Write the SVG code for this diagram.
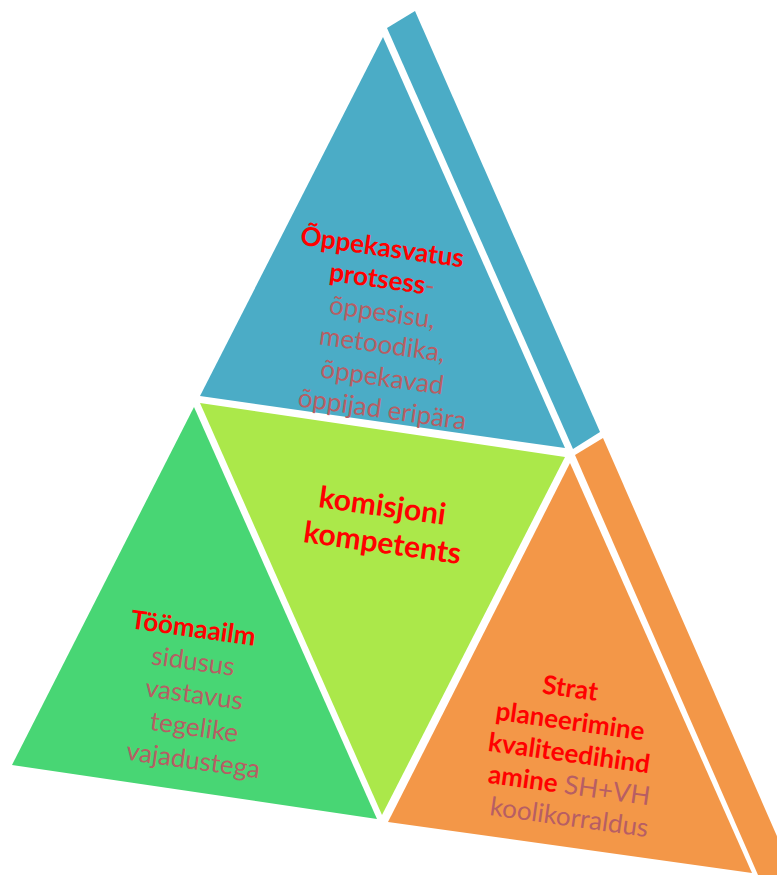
<svg xmlns="http://www.w3.org/2000/svg" width="777" height="875" viewBox="0 0 777 875">
<style>
.t{font-family:Lato,"Open Sans","Liberation Sans",sans-serif;text-anchor:middle}
.h{font-weight:bold;fill:#FF0000}
.s{fill:#B75E64}
.f26{font-size:26px}
.f30{font-size:30px}
</style>
<rect width="777" height="875" fill="#FFFFFF"/>
<g id="top-blue">
<polygon points="383,37 200,396 565,448" fill="#4BACC6"/>
<polygon points="387,28 415,11 600,432 573,449" fill="#4BACC6"/>
<g class="t f26">
<text class="h" transform="rotate(8 381 256)" x="381" y="256">Õppekasvatus</text>
<text transform="rotate(8 381 288)" x="381" y="288"><tspan class="h">protsess</tspan><tspan class="s">-</tspan></text>
<text class="s" transform="rotate(8 381 321)" x="381" y="321">õppesisu,</text>
<text class="s" transform="rotate(8 381 353)" x="381" y="353">metoodika,</text>
<text class="s" transform="rotate(8 381 386)" x="381" y="386">õppekavad</text>
<text class="s" transform="rotate(8 381 418)" x="381" y="418">õppijad eripära</text>
</g>
</g>
<g id="center-lime">
<polygon points="200,403 565,457 382,815" fill="#ABE84A"/>
<g class="t f30">
<text class="h" transform="rotate(8 381 516)" x="381" y="516">komisjoni</text>
<text class="h" transform="rotate(8 381 553)" x="381" y="553">kompetents</text>
</g>
</g>
<g id="left-green">
<polygon points="194,407 12,765 377,819" fill="#48D674"/>
<g class="t f26">
<text class="h" transform="rotate(8 192 637)" x="192" y="637">Töömaailm</text>
<text class="s" transform="rotate(8 192 670)" x="192" y="670">sidusus</text>
<text class="s" transform="rotate(8 193 703)" x="193" y="703">vastavus</text>
<text class="s" transform="rotate(8 193 736)" x="193" y="736">tegelike</text>
<text class="s" transform="rotate(8 192 769)" x="192" y="769">vajadustega</text>
</g>
</g>
<g id="right-orange">
<polygon points="570,463 388,822 752,873" fill="#F39748"/>
<polygon points="575,455 603,438 790,866 790,875 758,875" fill="#F39748"/>
<g class="t f26">
<text class="h" transform="rotate(8 569 697)" x="569" y="697">Strat</text>
<text class="h" transform="rotate(8 569 730)" x="569" y="730">planeerimine</text>
<text class="h" transform="rotate(8 568 762)" x="568" y="762">kvaliteedihind</text>
<text transform="rotate(8 568 794)" x="568" y="794"><tspan class="h">amine</tspan> <tspan class="s">SH+VH</tspan></text>
<text class="s" transform="rotate(8 568 826)" x="568" y="826">koolikorraldus</text>
</g>
</g>
<g id="connectors"/>
</svg>
